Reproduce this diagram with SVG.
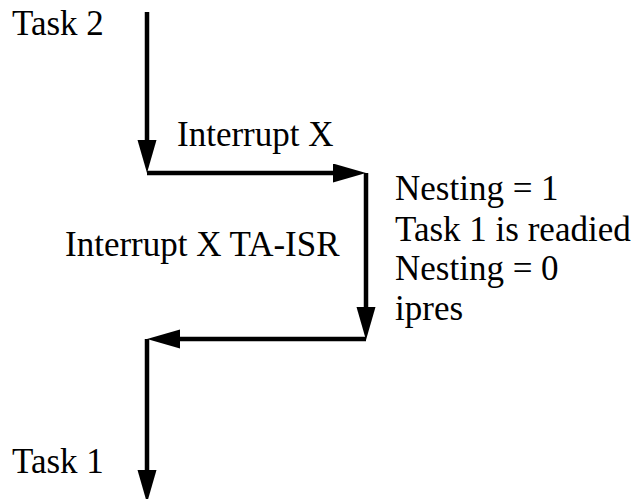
<svg xmlns="http://www.w3.org/2000/svg" width="640" height="499" viewBox="0 0 640 499" font-family="'Liberation Serif', 'DejaVu Serif', serif">
<style>
text{font-size:35px;fill:#000}
.c{fill:none;stroke:#000;stroke-width:4.5}
</style>
<defs>
<marker id="ah" markerUnits="userSpaceOnUse" markerWidth="34" markerHeight="20" refX="5" refY="9.5" orient="auto">
<path d="M0,0 L33,9.5 L0,19 z" fill="#000"/>
</marker>
</defs>
<rect width="640" height="499" fill="#fff"/>
<g id="connectors">
<path class="c" d="M147,12 V145" marker-end="url(#ah)"/>
<path class="c" d="M147,173 H338" marker-end="url(#ah)"/>
<path class="c" d="M366,173 V312" marker-end="url(#ah)"/>
<path class="c" d="M366,339 H175" marker-end="url(#ah)"/>
<path class="c" d="M147,339 V475" marker-end="url(#ah)"/>
</g>
<g id="task2"><text x="12" y="35">Task 2</text></g>
<g id="interrupt"><text x="177" y="146">Interrupt X</text></g>
<g id="isr">
<text x="65" y="256">Interrupt X TA-ISR</text>
<text x="395" y="200">Nesting = 1</text>
<text x="395" y="241">Task 1 is readied</text>
<text x="395" y="280">Nesting = 0</text>
<text x="395" y="320">ipres</text>
</g>
<g id="task1"><text x="12" y="473">Task 1</text></g>
</svg>
